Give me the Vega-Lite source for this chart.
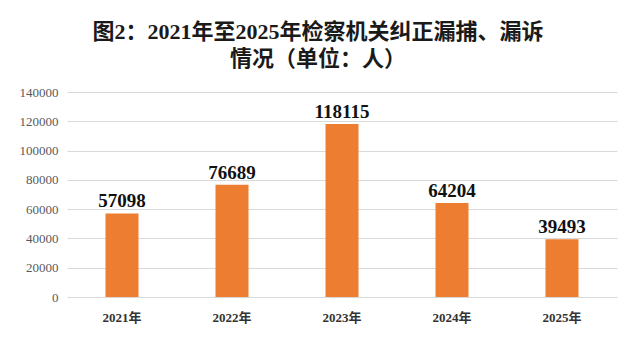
{
  "$schema": "https://vega.github.io/schema/vega-lite/v6.json",
  "width": 550,
  "height": 205,
  "autosize": {"type": "none"},
  "padding": {"left": 67, "top": 92, "right": 23, "bottom": 48},
  "background": "#ffffff",
  "title": {
    "text": ["图2：2021年至2025年检察机关纠正漏捕、漏诉", "情况（单位：人）"],
    "font": "Liberation Serif, Noto Sans CJK SC",
    "fontSize": 22,
    "fontWeight": "bold",
    "color": "#1a1a1a",
    "anchor": "middle",
    "dx": -24,
    "offset": 15,
    "lineHeight": 27
  },
  "data": {
    "values": [
      {"year": "2021年", "value": 57098},
      {"year": "2022年", "value": 76689},
      {"year": "2023年", "value": 118115},
      {"year": "2024年", "value": 64204},
      {"year": "2025年", "value": 39493}
    ]
  },
  "encoding": {
    "x": {
      "field": "year",
      "type": "nominal",
      "sort": null,
      "scale": {"paddingInner": 0.7, "paddingOuter": 0.35},
      "axis": {
        "title": null,
        "labelAngle": 0,
        "domain": false,
        "ticks": false,
        "labelFont": "Liberation Serif, Noto Sans CJK SC",
        "labelFontSize": 13,
        "labelFontWeight": "bold",
        "labelColor": "#333333",
        "labelPadding": 14
      }
    },
    "y": {
      "field": "value",
      "type": "quantitative",
      "scale": {"domain": [0, 140000], "nice": false},
      "axis": {
        "title": null,
        "values": [0, 20000, 40000, 60000, 80000, 100000, 120000, 140000],
        "format": "d",
        "domain": false,
        "ticks": false,
        "grid": true,
        "gridColor": "#d9d9d9",
        "gridWidth": 1,
        "labelFont": "Liberation Serif, Noto Sans CJK SC",
        "labelFontSize": 13,
        "labelColor": "#595959",
        "labelPadding": 9
      }
    }
  },
  "layer": [
    {
      "mark": {"type": "bar", "color": "#ED7D31"}
    },
    {
      "mark": {
        "type": "text",
        "dy": -12,
        "font": "Liberation Serif, Noto Sans CJK SC",
        "fontSize": 19,
        "fontWeight": "bold",
        "color": "#111111"
      },
      "encoding": {"text": {"field": "value", "type": "quantitative", "format": "d"}}
    }
  ],
  "config": {"view": {"stroke": null}}
}
